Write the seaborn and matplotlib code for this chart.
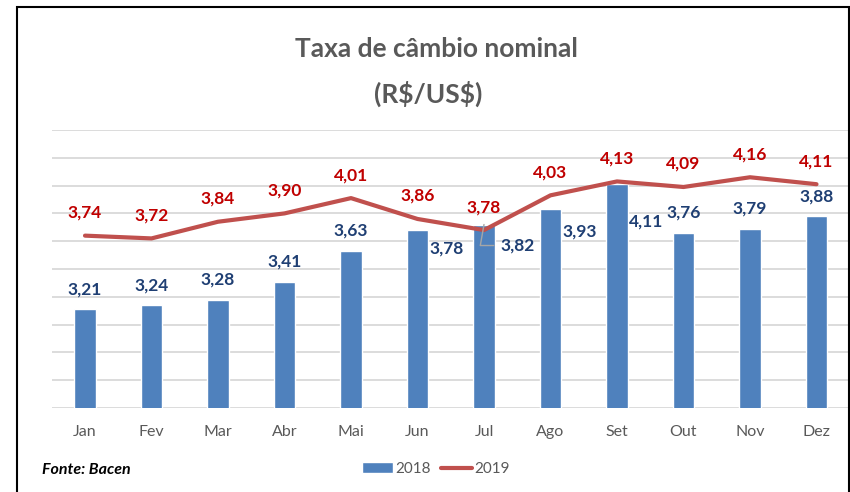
import matplotlib.pyplot as plt
import matplotlib.patches as mpatches
import numpy as np
import seaborn as sns

# dados (Bacen)
meses = ['Jan', 'Fev', 'Mar', 'Abr', 'Mai', 'Jun', 'Jul', 'Ago', 'Set', 'Out', 'Nov', 'Dez']
cambio_2018 = [3.21, 3.24, 3.28, 3.41, 3.63, 3.78, 3.82, 3.93, 4.11, 3.76, 3.79, 3.88]
cambio_2019 = [3.74, 3.72, 3.84, 3.90, 4.01, 3.86, 3.78, 4.03, 4.13, 4.09, 4.16, 4.11]

AZUL = '#4F81BD'
VERMELHO = '#C0504D'
CINZA = '#595959'

# onde fica o rotulo de cada barra 2018: (dx, dy, ha) em pixels a partir do topo
pos_rotulo_2018 = {5: (12, -18, 'left'), 6: (16, -21, 'left'),
                   7: (12, -22, 'left'), 8: (12, -37, 'left')}

sns.set_theme(style='white')
plt.rcParams['font.family'] = ['Lato', 'DejaVu Sans']

W, H = 850, 492
fig = plt.figure(figsize=(W / 100, H / 100), dpi=100)
ax = fig.add_axes([51.75 / W, 84 / H, 798 / W, 278 / H])

sns.barplot(x=meses, y=cambio_2018, color=AZUL, width=0.32, saturation=1,
            label='2018', ax=ax)
sns.lineplot(x=np.arange(len(meses)), y=cambio_2019, color=VERMELHO, lw=3,
             label='2019', ax=ax)

ax.set_ylim(2.5, 4.5)
ax.set_yticks(np.linspace(2.5, 4.5, 11))
ax.set_yticklabels([])
ax.set_xlim(-0.5, len(meses) - 0.5)
ax.grid(axis='y', color='#D9D9D9', lw=1.3)
ax.set_axisbelow(True)
for s in ax.spines.values():
    s.set_visible(False)
ax.tick_params(axis='x', length=0, pad=12, labelsize=11.5, labelcolor=CINZA)
ax.tick_params(axis='y', length=0)

handles, labels = ax.get_legend_handles_labels()
if ax.get_legend() is not None:
    ax.get_legend().remove()
ordem = sorted(range(len(labels)), key=lambda k: labels[k])
handles = [handles[k] for k in ordem]
labels = [labels[k] for k in ordem]

# rotulos 2018
for i, v in enumerate(cambio_2018):
    dx, dy, ha = pos_rotulo_2018.get(i, (0, 20, 'center'))
    props = None
    if i == 6:
        props = dict(arrowstyle='-', color='#A6A6A6', lw=1,
                     connectionstyle='angle,angleA=0,angleB=80',
                     shrinkA=2, shrinkB=0)
    ax.annotate(f'{v:.2f}'.replace('.', ','), xy=(i, v), xytext=(dx, dy),
                textcoords='offset pixels', ha=ha, va='center',
                color='#1F3F73', fontsize=12.5, fontweight='bold',
                arrowprops=props, annotation_clip=False)

# rotulos 2019
for i, v in enumerate(cambio_2019):
    ax.annotate(f'{v:.2f}'.replace('.', ','), xy=(i, v), xytext=(0, 23),
                textcoords='offset pixels', ha='center', va='center',
                color='#C00000', fontsize=12.5, fontweight='bold')

fig.text(436 / W, 1 - 49 / H, 'Taxa de câmbio nominal', ha='center', va='center',
         fontsize=19, fontweight='bold', color=CINZA)
fig.text(428 / W, 1 - 94 / H, r'(R\$/US\$)', ha='center', va='center',
         fontsize=19, fontweight='bold', color=CINZA)

fig.text(42 / W, 1 - 470 / H, 'Fonte: Bacen', ha='left', va='center',
         fontsize=11.5, fontweight='bold', fontstyle='italic', color='black')

fig.legend(handles, labels, loc='center', bbox_to_anchor=(436 / W, 1 - 469 / H),
           ncol=2, frameon=False, fontsize=11, handlelength=2.0,
           handletextpad=0.15, columnspacing=0.7,
           labelcolor=CINZA)

fig.add_artist(mpatches.Rectangle((17 / W, -0.02), (849 - 17) / W, (H - 7) / H + 0.02,
                                  transform=fig.transFigure, fill=False,
                                  ec='black', lw=1.5))

fig.savefig('out.png', dpi=100)
